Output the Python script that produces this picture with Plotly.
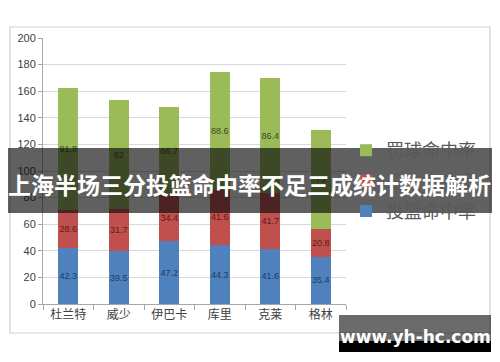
import plotly.graph_objects as go

players = ["杜兰特", "威少", "伊巴卡", "库里", "克莱", "格林"]
fg_pct = [42.3, 39.5, 47.2, 44.3, 41.6, 35.4]      # 投篮命中率
three_pct = [28.6, 31.7, 34.4, 41.6, 41.7, 20.8]   # 三分命中率
ft_pct = [91.8, 82, 66.7, 88.6, 86.4, 75]          # 罚球命中率
y_ticks = [0, 20, 40, 60, 80, 100, 120, 140, 160, 180, 200]

title_text = "上海半场三分投篮命中率不足三成统计数据解析"
watermark = "www.yh-hc.com"

FONT = "Noto Sans CJK SC, Noto Sans, sans-serif"

series = [
    ("投篮命中率", fg_pct, "#4f81bd", "#1f3a66"),
    ("三分命中率", three_pct, "#c0504d", "#5c1a18"),
    ("罚球命中率", ft_pct, "#9bbb59", "#3b4a1c"),
]

fig = go.Figure()
for i, (name, vals, col, tcol) in enumerate(series):
    fig.add_trace(go.Bar(
        x=players, y=vals, name=name,
        marker=dict(color=col, line=dict(width=0)),
        text=[f"{v:g}" for v in vals],
        textposition="inside", insidetextanchor="middle", textangle=0,
        constraintext="none",
        textfont=dict(size=9, color=tcol, family="Liberation Sans, Arial"),
        legendgroup=f"g{i}",
        legendrank=1000 - i,
        width=0.4,
    ))

W, H = 500, 362
L, R, T, B = 43, 154, 38, 58
pw, ph = W - L - R, H - T - B

def px(x):
    return (x - L) / pw

def py(y):
    return (H - B - y) / ph

shapes = [
    # outer chart border
    dict(type="rect", xref="paper", yref="paper", x0=px(10), x1=px(490), y0=py(333), y1=py(27),
         line=dict(color="#cfcfcf", width=1.2), fillcolor="rgba(0,0,0,0)", layer="below"),
    # banner
    dict(type="rect", xref="paper", yref="paper", x0=px(8), x1=px(492), y0=py(213), y1=py(148),
         line=dict(width=0), fillcolor="rgba(10,10,10,0.65)", layer="above"),
    # watermark boxes
    dict(type="rect", xref="paper", yref="paper", x0=px(339), x1=px(491), y0=py(341), y1=py(315),
         line=dict(width=0), fillcolor="rgba(0,0,0,0.58)", layer="above"),
    dict(type="rect", xref="paper", yref="paper", x0=px(339), x1=px(491), y0=py(352), y1=py(341),
         line=dict(width=0), fillcolor="#000000", layer="above"),
]

annotations = [
    dict(text=f"<b>{title_text}</b>", xref="paper", yref="paper", x=px(249), y=py(184),
         xanchor="center", yanchor="middle", showarrow=False,
         font=dict(size=23, color="white", family=FONT)),
    dict(text=f"<b>{watermark}</b>", xref="paper", yref="paper", x=px(415), y=py(337),
         xanchor="center", yanchor="middle", showarrow=False,
         font=dict(size=17, color="white", family="DejaVu Sans, Liberation Sans")),
]

fig.update_layout(
    width=W, height=H,
    margin=dict(l=L, r=R, t=T, b=B, autoexpand=False),
    paper_bgcolor="white", plot_bgcolor="white",
    barmode="stack",
    font=dict(family=FONT, color="#404040"),
    showlegend=True,
    legend=dict(x=px(346), y=py(132), xanchor="left", yanchor="top",
                traceorder="grouped", tracegroupgap=4,
                font=dict(size=18, color="#595959", family=FONT),
                bgcolor="rgba(0,0,0,0)"),
    xaxis=dict(showgrid=False, showline=True, linecolor="#a6a6a6", linewidth=1,
               ticks="outside", tickson="boundaries", ticklen=5, tickcolor="#a6a6a6",
               tickfont=dict(size=12, color="#404040", family=FONT)),
    yaxis=dict(range=[0, 200], tickvals=y_ticks, showgrid=True, gridcolor="#d9d9d9", gridwidth=1,
               showline=True, linecolor="#a6a6a6", linewidth=1,
               ticks="outside", ticklen=4, tickcolor="#a6a6a6", zeroline=False,
               tickfont=dict(size=11, color="#404040", family="Liberation Sans, Arial")),
    shapes=shapes,
    annotations=annotations,
)

fig.write_html("out.html", config={"displayModeBar": False},
               post_script="document.body.style.margin='0';document.body.style.overflow='hidden';")
